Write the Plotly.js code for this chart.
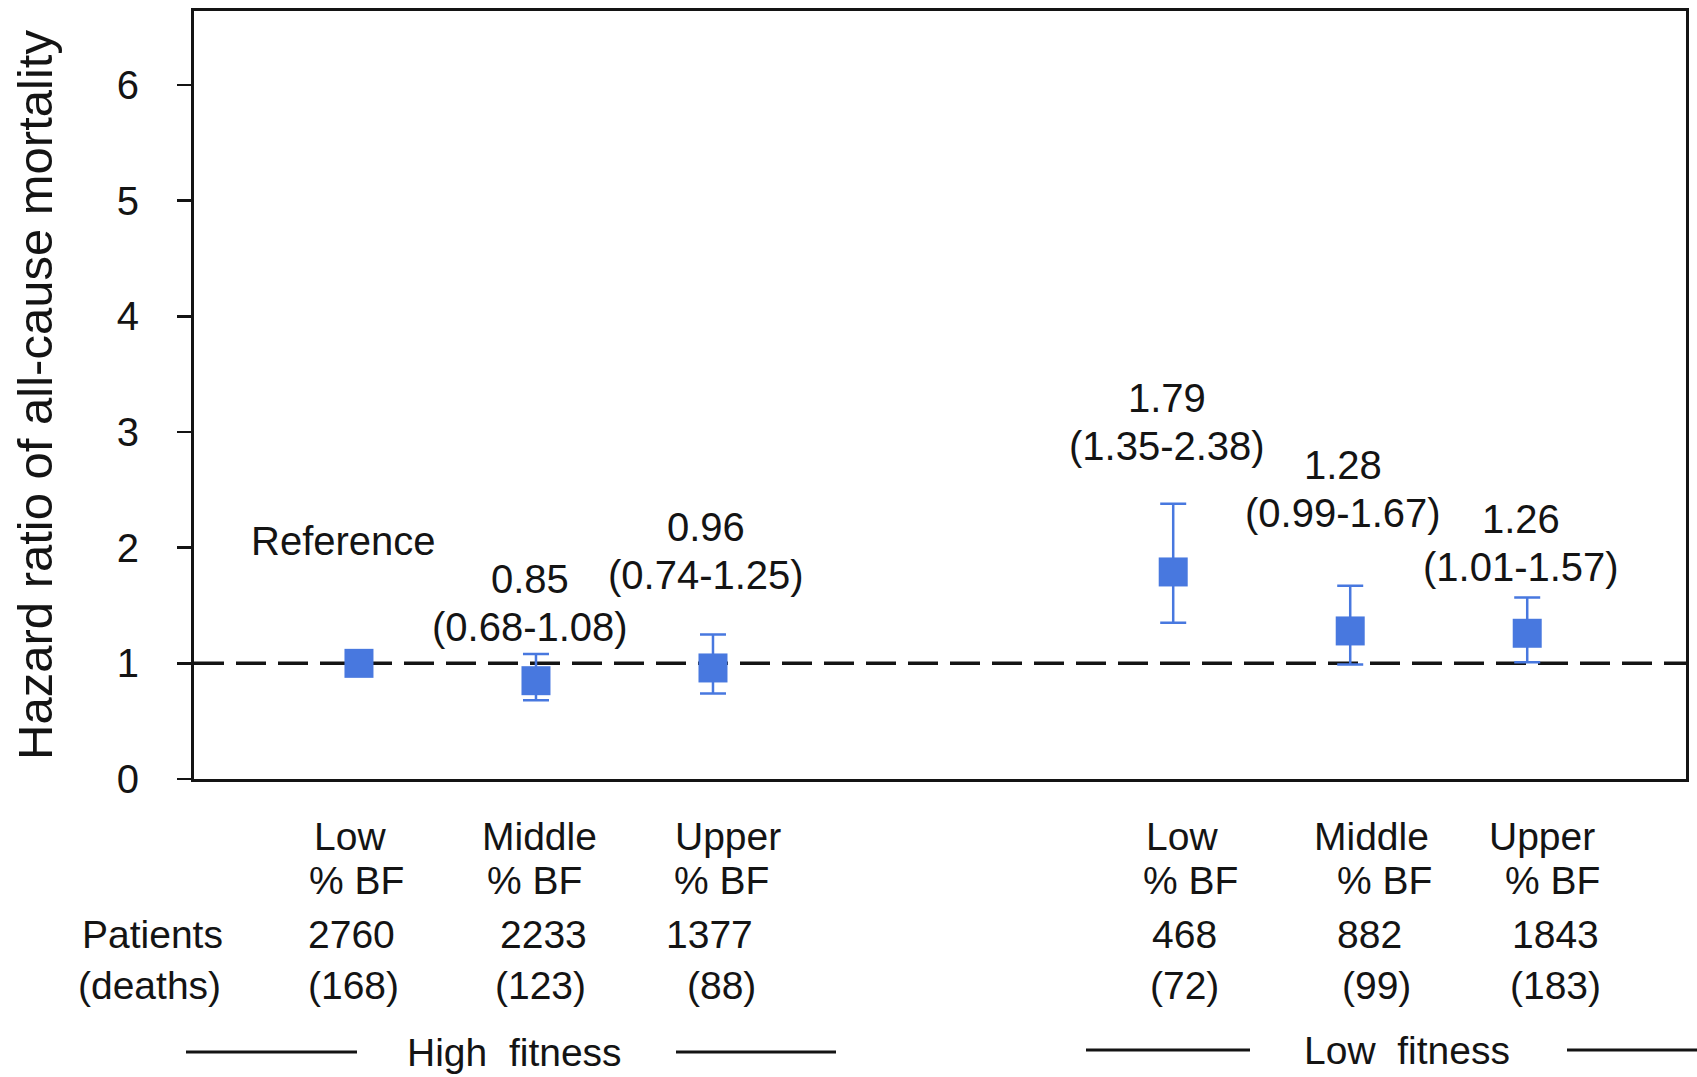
<!DOCTYPE html>
<html>
<head>
<meta charset="utf-8">
<script src="https://cdn.plot.ly/plotly-3.0.1.min.js"></script>
<style>
  html, body { margin: 0; padding: 0; background: #ffffff; }
  #chart { width: 1697px; height: 1077px; }
</style>
</head>
<body>
<div id="chart"></div>
<script>
// Hazard ratio of all-cause mortality by fitness group and body-fat tertile
const fitnessGroups = ['High\u00a0\u00a0fitness', 'Low\u00a0\u00a0fitness'];
const bodyFatLevels = ['Low', 'Middle', 'Upper'];
const bodyFatUnit = '% BF';
const hazardRatio = [1.00, 0.85, 0.96, 1.79, 1.28, 1.26];
const ciLower = [null, 0.68, 0.74, 1.35, 0.99, 1.01];
const ciUpper = [null, 1.08, 1.25, 2.38, 1.67, 1.57];
const patients = [2760, 2233, 1377, 468, 882, 1843];
const deaths = [168, 123, 88, 72, 99, 183];
const rowLabels = ['Patients', '(deaths)'];
const referenceLabel = 'Reference';
const yTicks = [0, 1, 2, 3, 4, 5, 6];

// ---- geometry ----
const W = 1697, H = 1077;
const M = { l: 194, r: 11, t: 11, b: 298 };
const plotW = W - M.l - M.r, plotH = H - M.t - M.b;
const axisBottomPx = M.t + plotH;
const groupSpacing = 4.6;           // distance between first points of the two groups
const xRange = [0.068, 8.497];
const yRange = [0, 6.64];

const FONT = 'Liberation Sans, Arial, Helvetica, sans-serif';
const INK = '#141414';
const BLUE = '#4878df';
const TXT = 40;                     // value label text size
const TABLE_TXT = 39;               // table text size
const LINE_GAP = 48;                // distance between the two lines of a value label

const nPerGroup = bodyFatLevels.length;
const xPos = hazardRatio.map((_, i) => 1 + (i % nPerGroup) + Math.floor(i / nPerGroup) * groupSpacing);

// paper coordinates from page pixels
const pxX = px => (px - M.l) / plotW;
const pxY = py => (axisBottomPx - py) / plotH;

// error bar lengths (reference group has no interval)
const errPlus = hazardRatio.map((v, i) => ciUpper[i] == null ? NaN : ciUpper[i] - v);
const errMinus = hazardRatio.map((v, i) => ciLower[i] == null ? NaN : v - ciLower[i]);

const trace = {
  type: 'scatter',
  mode: 'markers',
  x: xPos,
  y: hazardRatio,
  marker: { symbol: 'square', size: 29, color: BLUE, line: { width: 0 } },
  error_y: {
    type: 'data', symmetric: false,
    array: errPlus, arrayminus: errMinus,
    color: BLUE, thickness: 2.5, width: 13
  },
  hoverinfo: 'x+y',
  showlegend: false,
  cliponaxis: false
};

// label offsets (px) for the value labels above each point (centre of the label block)
const labelShift = [
  { dx: -15, dy: 122 },
  { dx: -6, dy: 51 },
  { dx: -7, dy: 83 },
  { dx: -6, dy: 82 },
  { dx: -7, dy: 97 },
  { dx: -6, dy: 54 }
];

const annotations = [];
const fmt = v => v.toFixed(2);

function valueText(text, i, dy) {
  annotations.push({
    xref: 'x', yref: 'y',
    x: xPos[i], y: ciUpper[i] == null ? hazardRatio[i] : ciUpper[i],
    xanchor: 'center', yanchor: 'middle',
    xshift: labelShift[i].dx, yshift: labelShift[i].dy + dy,
    text: text, showarrow: false, align: 'center',
    font: { family: FONT, size: TXT, color: INK }
  });
}

hazardRatio.forEach((hr, i) => {
  if (ciUpper[i] == null) {
    valueText(referenceLabel, i, 0);
  } else {
    valueText(fmt(hr), i, LINE_GAP / 2);
    valueText('(' + fmt(ciLower[i]) + '-' + fmt(ciUpper[i]) + ')', i, -LINE_GAP / 2);
  }
});

// table beneath the axis
const rowY = { level: 836, unit: 880, patients: 934, deaths: 985 };
const tableShift = {
  level:    [-9, 4, 15, 9, 21, 15],
  unit:     [-2, -1, 9, 17, 34, 25],
  patients: [-7, 8, -3, 11, 19, 28],
  deaths:   [-5, 5, 9, 11, 26, 28]
};

function tableText(text, xData, py, dx) {
  annotations.push({
    xref: 'x', yref: 'paper',
    x: xData, y: pxY(py),
    xanchor: 'center', yanchor: 'middle', xshift: dx,
    text: text, showarrow: false,
    font: { family: FONT, size: TABLE_TXT, color: INK }
  });
}

hazardRatio.forEach((_, i) => {
  tableText(bodyFatLevels[i % nPerGroup], xPos[i], rowY.level, tableShift.level[i]);
  tableText(bodyFatUnit, xPos[i], rowY.unit, tableShift.unit[i]);
  tableText(String(patients[i]), xPos[i], rowY.patients, tableShift.patients[i]);
  tableText('(' + deaths[i] + ')', xPos[i], rowY.deaths, tableShift.deaths[i]);
});

// row headers
[[rowLabels[0], 152, rowY.patients], [rowLabels[1], 149, rowY.deaths]].forEach(([t, px, py]) => {
  annotations.push({
    xref: 'paper', yref: 'paper', x: pxX(px), y: pxY(py),
    xanchor: 'center', yanchor: 'middle',
    text: t, showarrow: false,
    font: { family: FONT, size: TABLE_TXT, color: INK }
  });
});

// group captions with rules either side
const groupCaption = [
  { cx: 514, py: 1052, rules: [[186, 357], [676, 836]] },
  { cx: 1407, py: 1050, rules: [[1086, 1250], [1567, 1697]] }
];

const shapes = [{
  type: 'line', xref: 'paper', yref: 'y',
  x0: 0, x1: 1, y0: hazardRatio[0], y1: hazardRatio[0],
  line: { color: INK, width: 3.5, dash: '30px,12px' },
  layer: 'below'
}];

fitnessGroups.forEach((g, k) => {
  const c = groupCaption[k];
  annotations.push({
    xref: 'paper', yref: 'paper', x: pxX(c.cx), y: pxY(c.py),
    xanchor: 'center', yanchor: 'middle',
    text: g, showarrow: false,
    font: { family: FONT, size: TABLE_TXT, color: INK }
  });
  c.rules.forEach(([a, b]) => {
    shapes.push({
      type: 'line', xref: 'paper', yref: 'paper',
      x0: pxX(a), x1: pxX(b), y0: pxY(c.py), y1: pxY(c.py),
      line: { color: INK, width: 3 }
    });
  });
});

const layout = {
  width: W, height: H,
  margin: M,
  paper_bgcolor: '#ffffff',
  plot_bgcolor: '#ffffff',
  font: { family: FONT, color: INK },
  showlegend: false,
  xaxis: {
    range: xRange,
    showline: true, linecolor: INK, linewidth: 3, mirror: true,
    showticklabels: false, ticks: '', showgrid: false, zeroline: false,
    fixedrange: true
  },
  yaxis: {
    range: yRange,
    tickvals: yTicks,
    ticktext: yTicks.map(String),
    ticks: 'outside', ticklen: 14, tickwidth: 2.5, tickcolor: INK,
    ticklabelstandoff: 30,
    tickfont: { family: FONT, size: 40, color: INK },
    showline: true, linecolor: INK, linewidth: 3, mirror: true,
    showgrid: false, zeroline: false,
    title: {
      text: 'Hazard ratio of all-cause mortality',
      font: { family: FONT, size: 49, color: INK },
      standoff: 49
    },
    fixedrange: true
  },
  shapes: shapes,
  annotations: annotations
};

Plotly.newPlot('chart', [trace], layout, { displayModeBar: false, staticPlot: true });
</script>
</body>
</html>
